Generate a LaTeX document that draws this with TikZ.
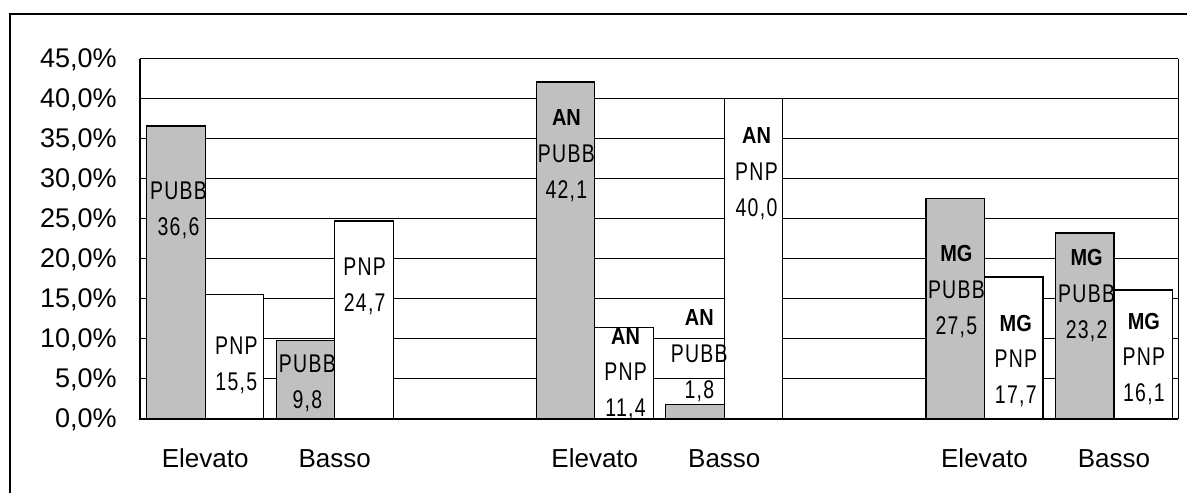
\documentclass[tikz,border=0pt]{standalone}
\usepackage{fontspec}
\usepackage{tikz}
\usepackage{xcolor}
\setmainfont{Liberation Sans}
\newfontfamily\barfont[FakeStretch=0.76, LetterSpace=5]{Liberation Sans}
\newfontfamily\grpfont[FakeStretch=0.86]{Liberation Sans}
\definecolor{barfill}{RGB}{192,192,192}

\begin{document}
\begin{tikzpicture}[x=0.5pt, y=-0.5pt,
	gridline/.style={line width=0.65pt},
	bargray/.style={draw=black, line width=0.65pt, fill=barfill},
	barwhite/.style={draw=black, line width=0.65pt, fill=white},
	ticklabel/.style={anchor=base east, inner sep=0pt, font=\fontsize{13.5}{16}\selectfont},
	catlabel/.style={anchor=base, inner sep=0pt, font=\fontsize{13}{16}\selectfont},
	barlabel/.style={anchor=base, inner sep=0pt, font=\barfont\fontsize{12.8}{15}\selectfont},
	grplabel/.style={anchor=base, inner sep=0pt, font=\grpfont\bfseries\fontsize{11.6}{14}\selectfont}]
	\useasboundingbox (0,0) rectangle (1187,493);
	% frame round the chart
	\draw[line width=1pt] (10,493) -- (10,14) -- (1187,14);
	% grid and y axis
	\foreach \v [count=\i] in {0,5,...,45}
	{
		\draw[gridline] (140,418.7-8*\v) -- (1178.3,418.7-8*\v);
		\node[ticklabel] (tick\i) at (117,427.9-8*\v) {\v,0\%};
	}
	\draw[gridline] (1178.3,58.7) -- (1178.3,418.7);
	% bars: Elevato PUBB, Elevato PNP, Basso PUBB, Basso PNP
	\foreach \g/\pe/\ne/\pb/\nb [count=\k] in {146.7/36.6/15.5/9.8/24.7, 536.3/42.1/11.4/1.8/40.0, 926/27.5/17.7/23.2/16.1}
	{
		\draw[bargray] (\g,418.7) rectangle (\g+58.5,418.7-8*\pe);
		\draw[barwhite] (\g+58.5,418.7) rectangle (\g+117,418.7-8*\ne);
		\draw[bargray] (\g+129.5,418.7) rectangle (\g+188,418.7-8*\pb);
		\draw[barwhite] (\g+188,418.7) rectangle (\g+246.5,418.7-8*\nb);
		\node[catlabel] (elev\k) at (\g+58.5,467) {Elevato};
		\node[catlabel] (basso\k) at (\g+188,467) {Basso};
	}
	\draw[line width=0.9pt] (140,58.7) -- (140,418.7) -- (1178.3,418.7);
	% labels on the first group
	\foreach \x/\y/\kind/\val [count=\n] in {178.5/190/PUBB/{36,6}, 236.3/345.7/PNP/{15,5}, 307.4/363.3/PUBB/{9,8}, 364.7/266.7/PNP/{24,7}}
	{
		\node[barlabel] (kind\n) at (\x,\y+9) {\kind};
		\node[barlabel] (val\n) at (\x,\y+45) {\val};
	}
	% labels on the AN and MG groups
	\foreach \x/\y/\grp/\kind/\val [count=\n from 5] in {566.4/117.3/AN/PUBB/{42,1}, 625.6/335.7/AN/PNP/{11,4}, 699.3/317.3/AN/PUBB/{1,8}, 756.5/135/AN/PNP/{40,0}, 956.4/253.3/MG/PUBB/{27,5}, 1015.8/322.7/MG/PNP/{17,7}, 1086.6/257.3/MG/PUBB/{23,2}, 1143.9/320.7/MG/PNP/{16,1}}
	{
		\node[grplabel] (grp\n) at (\x,\y+8.3) {\grp};
		\node[barlabel] (kind\n) at (\x,\y+45) {\kind};
		\node[barlabel] (val\n) at (\x,\y+81) {\val};
	}
\end{tikzpicture}
\end{document}
